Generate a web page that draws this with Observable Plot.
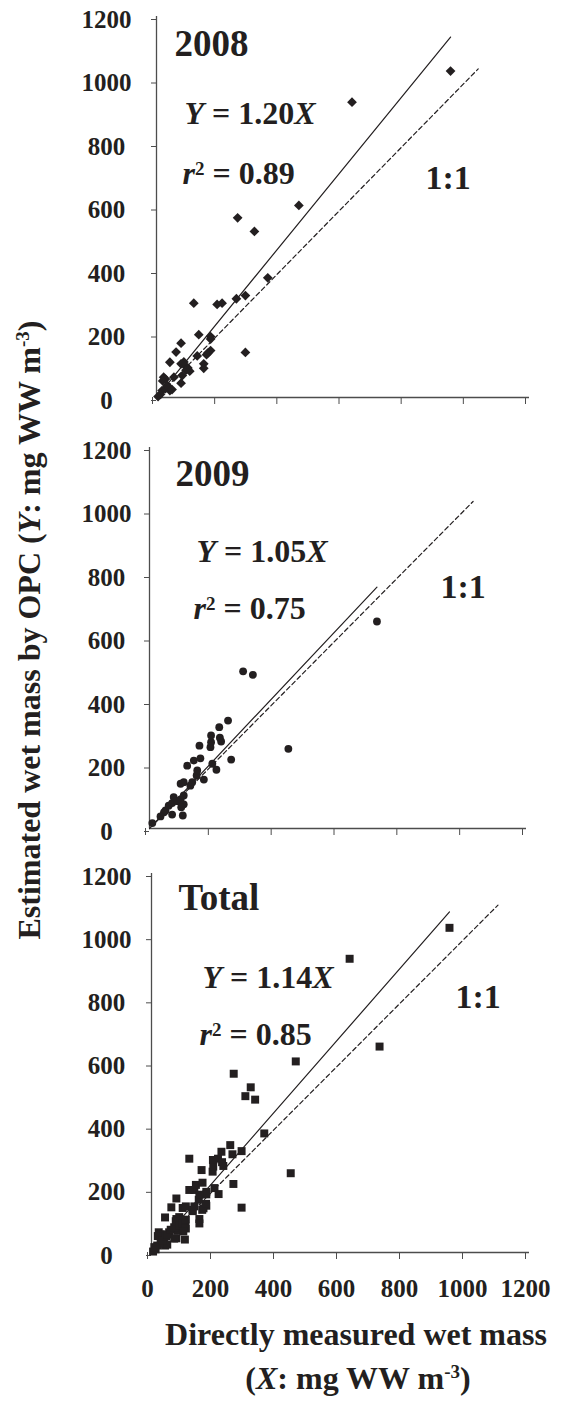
<!DOCTYPE html>
<html><head><meta charset="utf-8">
<script src="https://cdn.jsdelivr.net/npm/d3@7"></script>
<script src="https://cdn.jsdelivr.net/npm/@observablehq/plot@0.6"></script>
<style>
body{margin:0;background:#fff;}
#wrap{position:relative;width:563px;height:1414px;overflow:hidden;background:#fff;}
</style></head><body><div id="wrap"></div>
<script>
// ---- data ----
const panelNames = ["2008", "2009", "Total"];
const slopes = [1.20, 1.05, 1.14];
const r2s = [0.89, 0.75, 0.85];
const oneToOneEnd = [1035, 1030, 1100];
const xTicks = [0, 200, 400, 600, 800, 1000, 1200];
const yTicks = [0, 200, 400, 600, 800, 1000, 1200];
const pts2008 = [
  [946,1028],[629,930],[458,605],[261,566],[315,523],[358,377],[286,321],[257,311],
  [211,297],[195,293],[120,297],[286,142],[136,198],[174,192],[174,184],[79,171],
  [63,143],[43,111],[131,131],[174,148],[165,140],[161,135],[152,106],[152,92],
  [79,106],[91,101],[101,93],[107,83],[83,69],[79,45],[56,64],[23,64],[29,58],
  [20,52],[43,22],[29,28],[18,22],[13,10],[5,3],[35,38],[40,30],[50,25],[88,112],[95,86]
];
const pts2009 = [
  [9,17],[35,38],[46,51],[51,57],[72,44],[61,72],[72,80],[77,99],[88,86],[99,92],
  [109,76],[101,67],[109,104],[106,41],[99,141],[109,146],[130,135],[136,146],[150,167],
  [152,183],[173,154],[120,198],[141,214],[162,221],[159,261],[200,204],[213,185],
  [260,217],[194,256],[196,272],[196,293],[224,286],[228,274],[222,319],[250,340],
  [442,251],[298,495],[329,484],[724,652]
];
const ptsTotal = pts2008.concat(pts2009);
const panelData = [pts2008, pts2009, ptsTotal];

// ---- layout / style ----
const ink = "#231f20", axisGray = "#4d4d4d";
const serif = "'Liberation Serif','Times New Roman',Times,serif";
const layout = [
  {top:0,   height:430, mt:16, mb:33, ml:156, mr:34, symbol:"diamond2", r:4.4, labels:false,
   ann:{title:[18,39], eq:[28,107], r2:[26,167], one:[269,172]}},
  {top:430, height:430, mt:17, mb:32, ml:149, mr:37, symbol:"circle",   r:3.9, labels:false,
   ann:{title:[26,38], eq:[47,114], r2:[44,171], one:[291,150]}},
  {top:860, height:460, mt:13, mb:68, ml:151, mr:34, symbol:"square",   r:4.5, labels:true,
   ann:{title:[27,36], eq:[51,114], r2:[48,171], one:[304,134]}}
];

const wrap = document.getElementById("wrap");

function richify(svg) {
  d3.select(svg).selectAll("text").each(function() {
    const t = this.textContent;
    let m;
    const s = d3.select(this);
    if ((m = t.match(/^Y = ([\d.]+)X$/))) {
      s.text(null);
      s.append("tspan").attr("font-style", "italic").text("Y");
      s.append("tspan").text(" = " + m[1]);
      s.append("tspan").attr("font-style", "italic").text("X");
    } else if ((m = t.match(/^r2 = ([\d.]+)$/))) {
      s.text(null);
      s.append("tspan").attr("font-style", "italic").text("r");
      s.append("tspan").attr("font-size", 19).attr("dy", -9).text("2");
      s.append("tspan").attr("dy", 9).text(" = " + m[1]);
    }
  });
}

layout.forEach((L, i) => {
  const data = panelData[i];
  const xr = d3.extent(data, d => d[0]);
  const fit = [[xr[0], slopes[i] * xr[0]], [xr[1], slopes[i] * xr[1]]];
  const one = [[0, 0], [oneToOneEnd[i], oneToOneEnd[i]]];
  const txt = (s, pos, size) => Plot.text([s], {
    text: d => d, frameAnchor: "top-left", dx: pos[0], dy: pos[1],
    textAnchor: "start", lineAnchor: "bottom", fontSize: size, fontWeight: "bold", fill: ink
  });
  const svg = Plot.plot({
    width: 563, height: L.height,
    marginTop: L.mt, marginBottom: L.mb, marginLeft: L.ml, marginRight: L.mr,
    style: {background: "transparent", overflow: "visible", fontFamily: serif, color: ink},
    x: {domain: [0, 1200]},
    y: {domain: [0, 1200]},
    marks: [
      Plot.axisY({ticks: yTicks, tickSize: 5, tickPadding: L.ml - 106 - 5, textAnchor: "middle",
        dy: 3, fontSize: 25, fontWeight: "bold", stroke: axisGray, fill: ink,
        tickFormat: d => String(d), label: null}),
      Plot.axisX({ticks: xTicks, tickSize: 7, tickPadding: 20, dx: -4,
        fontSize: 25, fontWeight: "bold", stroke: axisGray, fill: ink,
        tickFormat: L.labels ? (d => String(d)) : (() => ""), label: null}),
      Plot.ruleX([0], {stroke: axisGray, strokeWidth: 1.3}),
      Plot.ruleY([0], {stroke: axisGray, strokeWidth: 1.3}),
      Plot.line(one, {x: d => d[0], y: d => d[1], stroke: ink, strokeWidth: 1.2, strokeDasharray: "4.5,3"}),
      Plot.line(fit, {x: d => d[0], y: d => d[1], stroke: ink, strokeWidth: 1.2}),
      Plot.dot(data, {x: d => d[0], y: d => d[1], symbol: L.symbol, r: L.r, fill: ink, stroke: "none"}),
      txt(panelNames[i], L.ann.title, 37),
      txt(`Y = ${slopes[i].toFixed(2)}X`, L.ann.eq, 32),
      txt(`r2 = ${r2s[i].toFixed(2)}`, L.ann.r2, 32),
      txt("1:1", L.ann.one, 34)
    ]
  });
  svg.style.position = "absolute";
  svg.style.left = "0px";
  svg.style.top = L.top + "px";
  richify(svg);
  wrap.appendChild(svg);
});

// ---- axis titles ----
const ov = d3.select(wrap).append("svg")
  .attr("width", 563).attr("height", 1414)
  .style("position", "absolute").style("left", "0px").style("top", "0px")
  .attr("font-family", serif).attr("font-weight", "bold").attr("fill", ink);

const yt = ov.append("text").attr("transform", "translate(40,630) rotate(-90)")
  .attr("text-anchor", "middle").attr("font-size", 32);
yt.append("tspan").text("Estimated wet mass by OPC (");
yt.append("tspan").attr("font-style", "italic").text("Y");
yt.append("tspan").text(": mg WW m");
yt.append("tspan").attr("font-size", 19).attr("dy", -11).text("-3");
yt.append("tspan").attr("dy", 11).text(")");

ov.append("text").attr("x", 356).attr("y", 1345).attr("text-anchor", "middle")
  .attr("font-size", 32).text("Directly measured wet mass");
const xt = ov.append("text").attr("x", 358).attr("y", 1389).attr("text-anchor", "middle")
  .attr("font-size", 32);
xt.append("tspan").text("(");
xt.append("tspan").attr("font-style", "italic").text("X");
xt.append("tspan").text(": mg WW m");
xt.append("tspan").attr("font-size", 19).attr("dy", -11).text("-3");
xt.append("tspan").attr("dy", 11).text(")");
</script></body></html>
